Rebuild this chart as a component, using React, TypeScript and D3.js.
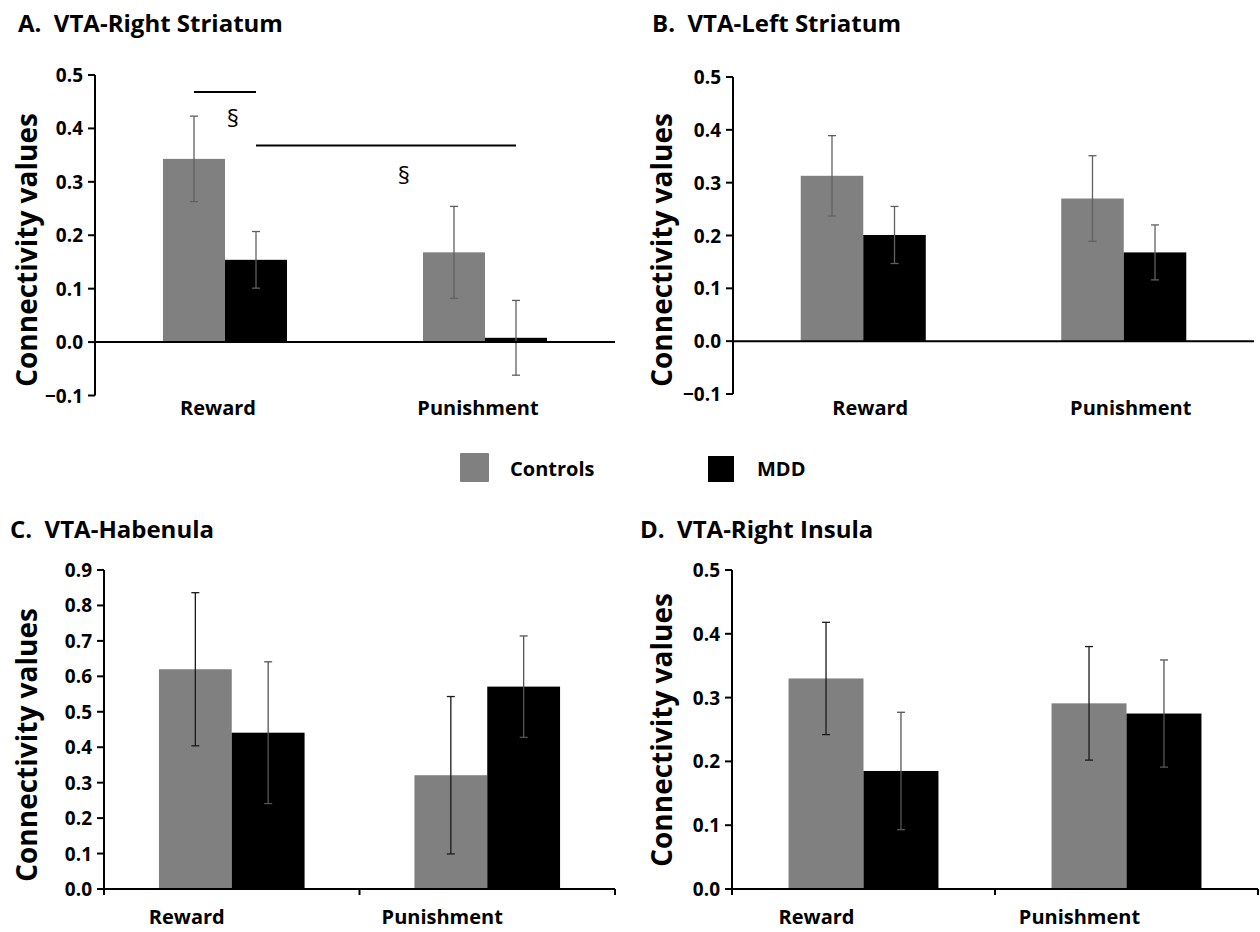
import React from "react";
import * as d3 from "d3";

const categories = ["Reward", "Punishment"];
const groups = ["Controls", "MDD"];

// Panel A: VTA-Right Striatum
const aControls = [0.343, 0.168];
const aControlsErr = [0.08, 0.086];
const aMDD = [0.154, 0.008];
const aMDDErr = [0.053, 0.07];
const aTicks = [-0.1, 0.0, 0.1, 0.2, 0.3, 0.4, 0.5];

// Panel B: VTA-Left Striatum
const bControls = [0.313, 0.27];
const bControlsErr = [0.076, 0.081];
const bMDD = [0.201, 0.168];
const bMDDErr = [0.054, 0.052];
const bTicks = [-0.1, 0.0, 0.1, 0.2, 0.3, 0.4, 0.5];

// Panel C: VTA-Habenula
const cControls = [0.62, 0.321];
const cControlsErr = [0.216, 0.222];
const cMDD = [0.441, 0.571];
const cMDDErr = [0.2, 0.143];
const cTicks = [0.0, 0.1, 0.2, 0.3, 0.4, 0.5, 0.6, 0.7, 0.8, 0.9];

// Panel D: VTA-Right Insula
const dControls = [0.33, 0.291];
const dControlsErr = [0.088, 0.089];
const dMDD = [0.185, 0.275];
const dMDDErr = [0.092, 0.084];
const dTicks = [0.0, 0.1, 0.2, 0.3, 0.4, 0.5];

// significance brackets in panel A
const sigLines = [
  { from: ["Reward", "Controls"], to: ["Reward", "MDD"], level: 0.468, labelDx: 8, labelLevel: 0.42 },
  { from: ["Reward", "MDD"], to: ["Punishment", "MDD"], level: 0.368, labelDx: 18, labelLevel: 0.314 },
];

const FONT = "'Open Sans', 'DejaVu Sans', sans-serif";
const CONTROL_COLOR = "#808080";
const MDD_COLOR = "#000000";

type PanelProps = {
  title: string;
  titleX: number;
  titleY: number;
  x0: number;
  x1: number;
  yTopPx: number;
  yBotPx: number;
  domain: [number, number];
  ticks: number[];
  controls: number[];
  controlsErr: number[];
  mdd: number[];
  mddErr: number[];
  groupPad: number;
  errColors: [string, string];
  labelX: number;
  labelY: number;
  catLabelY: number;
  catLabelDx: number;
  xTicks: boolean;
  sig?: typeof sigLines;
};

function Panel(p: PanelProps) {
  const y = d3.scaleLinear().domain(p.domain).range([p.yBotPx, p.yTopPx]);
  const x = d3
    .scaleBand<string>()
    .domain(categories)
    .range([p.x0, p.x1])
    .paddingInner(p.groupPad)
    .paddingOuter(p.groupPad / 2);
  const xg = d3.scaleBand<string>().domain(groups).range([0, x.bandwidth()]);
  const series = [
    { key: "Controls", vals: p.controls, errs: p.controlsErr, fill: CONTROL_COLOR, ec: p.errColors[0] },
    { key: "MDD", vals: p.mdd, errs: p.mddErr, fill: MDD_COLOR, ec: p.errColors[1] },
  ];
  const y0 = y(0);
  const step = x.step();
  const capW = 4;
  const fmt = d3.format(".1f");
  const cx = (cat: string, g: string) => (x(cat) as number) + (xg(g) as number) + xg.bandwidth() / 2;
  return (
    <g>
      <text
        x={p.titleX}
        y={p.titleY}
        fontFamily={FONT}
        fontWeight={700}
        fontSize={24}
        dominantBaseline="central"
        style={{ whiteSpace: "pre" }}
      >
        {p.title}
      </text>
      <text
        transform={`translate(${p.labelX},${p.labelY}) rotate(-90)`}
        textAnchor="middle"
        dominantBaseline="central"
        fontFamily={FONT}
        fontWeight={700}
        fontSize={28}
      >
        Connectivity values
      </text>
      {series.map((s) =>
        categories.map((cat, i) => {
          const v = s.vals[i];
          const bx = (x(cat) as number) + (xg(s.key) as number);
          return (
            <rect
              key={s.key + cat}
              x={bx}
              y={Math.min(y(v), y0)}
              width={xg.bandwidth()}
              height={Math.abs(y0 - y(v))}
              fill={s.fill}
            />
          );
        })
      )}
      {series.map((s) =>
        categories.map((cat, i) => {
          const v = s.vals[i];
          const e = s.errs[i];
          const c = cx(cat, s.key);
          return (
            <g key={"e" + s.key + cat} stroke={s.ec} strokeWidth={1.3}>
              <line x1={c} x2={c} y1={y(v + e)} y2={y(v - e)} />
              <line x1={c - capW} x2={c + capW} y1={y(v + e)} y2={y(v + e)} />
              <line x1={c - capW} x2={c + capW} y1={y(v - e)} y2={y(v - e)} />
            </g>
          );
        })
      )}
      {/* y axis */}
      <line x1={p.x0} x2={p.x0} y1={p.yTopPx} y2={p.yBotPx} stroke="#000" strokeWidth={2} />
      {p.ticks.map((t) => (
        <g key={"t" + t}>
          <line x1={p.x0 - 7} x2={p.x0} y1={y(t)} y2={y(t)} stroke="#000" strokeWidth={2} />
          <text
            x={p.x0 - 12}
            y={y(t)}
            textAnchor="end"
            dominantBaseline="central"
            fontFamily={FONT}
            fontWeight={700}
            fontSize={19}
          >
            {fmt(t)}
          </text>
        </g>
      ))}
      {/* x axis at zero */}
      <line x1={p.x0} x2={p.x1} y1={y0} y2={y0} stroke="#000" strokeWidth={2} />
      {p.xTicks &&
        [0, 1, 2].map((k) => (
          <line
            key={"xt" + k}
            x1={p.x0 + k * step}
            x2={p.x0 + k * step}
            y1={y0}
            y2={y0 + 6}
            stroke="#000"
            strokeWidth={2}
          />
        ))}
      {categories.map((cat) => (
        <text
          key={"c" + cat}
          x={(x(cat) as number) + x.bandwidth() / 2 + p.catLabelDx}
          y={p.catLabelY}
          textAnchor="middle"
          dominantBaseline="central"
          fontFamily={FONT}
          fontWeight={700}
          fontSize={20}
        >
          {cat}
        </text>
      ))}
      {p.sig &&
        p.sig.map((s, i) => {
          const xa = cx(s.from[0], s.from[1]);
          const xb = cx(s.to[0], s.to[1]);
          return (
            <g key={"s" + i}>
              <line x1={xa} x2={xb} y1={y(s.level)} y2={y(s.level)} stroke="#000" strokeWidth={2} />
              <text
                x={(xa + xb) / 2 + s.labelDx}
                y={y(s.labelLevel)}
                textAnchor="middle"
                dominantBaseline="central"
                fontFamily={FONT}
                fontSize={24}
              >
                §
              </text>
            </g>
          );
        })}
    </g>
  );
}

export default function App() {
  return (
    <svg
      width={1260}
      height={932}
      viewBox="0 0 1260 932"
      style={{ position: "absolute", left: 0, top: 0, background: "#fff" }}
    >
      <rect width={1260} height={932} fill="#fff" />
      <Panel
        title="A.  VTA-Right Striatum"
        titleX={18}
        titleY={22}
        x0={95}
        x1={615}
        yTopPx={75}
        yBotPx={395.5}
        domain={[-0.1, 0.5]}
        ticks={aTicks}
        controls={aControls}
        controlsErr={aControlsErr}
        mdd={aMDD}
        mddErr={aMDDErr}
        groupPad={0.523}
        errColors={["#606060", "#606060"]}
        labelX={26}
        labelY={250}
        catLabelY={407}
        catLabelDx={-7}
        xTicks={false}
        sig={sigLines}
      />
      <Panel
        title="B.  VTA-Left Striatum"
        titleX={652}
        titleY={22}
        x0={733}
        x1={1254}
        yTopPx={77}
        yBotPx={394}
        domain={[-0.1, 0.5]}
        ticks={bTicks}
        controls={bControls}
        controlsErr={bControlsErr}
        mdd={bMDD}
        mddErr={bMDDErr}
        groupPad={0.52}
        errColors={["#606060", "#606060"]}
        labelX={661}
        labelY={250}
        catLabelY={407}
        catLabelDx={7}
        xTicks={false}
      />
      <Panel
        title="C.  VTA-Habenula"
        titleX={10}
        titleY={528}
        x0={104}
        x1={615}
        yTopPx={570}
        yBotPx={889}
        domain={[0, 0.9]}
        ticks={cTicks}
        controls={cControls}
        controlsErr={cControlsErr}
        mdd={cMDD}
        mddErr={cMDDErr}
        groupPad={0.43}
        errColors={["#1a1a1a", "#555555"]}
        labelX={26}
        labelY={745}
        catLabelY={916}
        catLabelDx={-45}
        xTicks={true}
      />
      <Panel
        title="D.  VTA-Right Insula"
        titleX={640}
        titleY={528}
        x0={732}
        x1={1258}
        yTopPx={570}
        yBotPx={889}
        domain={[0, 0.5]}
        ticks={dTicks}
        controls={dControls}
        controlsErr={dControlsErr}
        mdd={dMDD}
        mddErr={dMDDErr}
        groupPad={0.43}
        errColors={["#1a1a1a", "#555555"]}
        labelX={661}
        labelY={730}
        catLabelY={916}
        catLabelDx={-47}
        xTicks={true}
      />
      {/* legend */}
      <g fontFamily={FONT} fontWeight={700} fontSize={20}>
        <rect x={460} y={453} width={29} height={29} fill={CONTROL_COLOR} rx={1} />
        <text x={510} y={468} dominantBaseline="central">
          {groups[0]}
        </text>
        <rect x={708} y={456} width={26} height={26} fill={MDD_COLOR} />
        <text x={757} y={468} dominantBaseline="central">
          {groups[1]}
        </text>
      </g>
    </svg>
  );
}
